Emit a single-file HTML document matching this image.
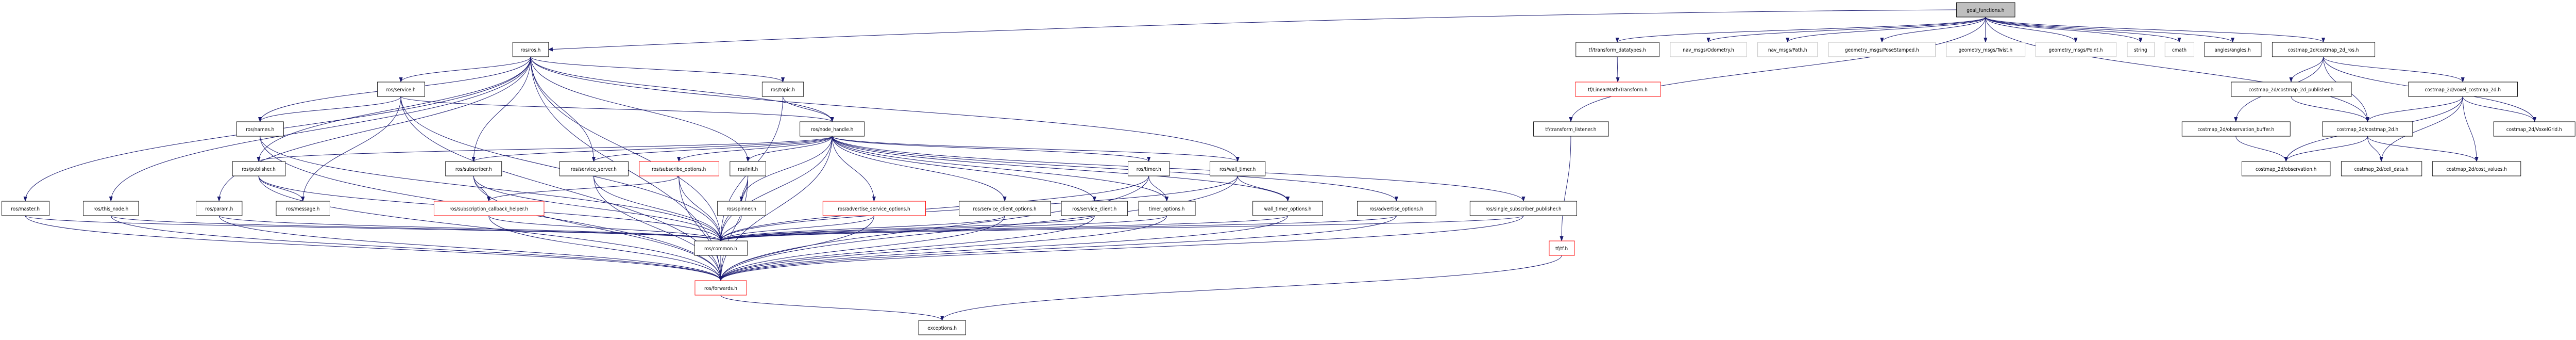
<!DOCTYPE html>
<html><head><meta charset="utf-8"><style>
html,body{margin:0;padding:0;background:#fff;width:100%;height:100%;overflow:hidden;}
svg{display:block;position:absolute;left:0;top:0;width:100vw;height:100vh;}
text{font-family:"DejaVu Sans","Liberation Sans",sans-serif;font-size:10px;fill:#000;}
</style></head><body>
<svg id="g" xmlns="http://www.w3.org/2000/svg" viewBox="0 0 5597 659" preserveAspectRatio="none">
<defs><marker id="a" markerWidth="10" markerHeight="8" refX="9" refY="4" orient="auto" markerUnits="userSpaceOnUse"><path d="M0,0 L10,4 L0,8 z" fill="#191970"/></marker></defs>
<g id="edges" fill="none" stroke="#191970" stroke-width="1"></g>
<g id="nodes">
<rect x="4251" y="5" width="127" height="28" fill="#bfbfbf" stroke="#000"/><text x="4314" y="23" text-anchor="middle">goal_functions.h</text>
<rect x="1114" y="82" width="78" height="28" fill="#fff" stroke="#000"/><text x="1153" y="100" text-anchor="middle">ros/ros.h</text>
<rect x="3424" y="82" width="181" height="28" fill="#fff" stroke="#000"/><text x="3514" y="100" text-anchor="middle">tf/transform_datatypes.h</text>
<rect x="3629" y="82" width="166" height="28" fill="#fff" stroke="#bfbfbf"/><text x="3712" y="100" text-anchor="middle">nav_msgs/Odometry.h</text>
<rect x="3819" y="82" width="130" height="28" fill="#fff" stroke="#bfbfbf"/><text x="3884" y="100" text-anchor="middle">nav_msgs/Path.h</text>
<rect x="3973" y="82" width="232" height="28" fill="#fff" stroke="#bfbfbf"/><text x="4089" y="100" text-anchor="middle">geometry_msgs/PoseStamped.h</text>
<rect x="4229" y="82" width="171" height="28" fill="#fff" stroke="#bfbfbf"/><text x="4314" y="100" text-anchor="middle">geometry_msgs/Twist.h</text>
<rect x="4423" y="82" width="175" height="28" fill="#fff" stroke="#bfbfbf"/><text x="4510" y="100" text-anchor="middle">geometry_msgs/Point.h</text>
<rect x="4622" y="82" width="59" height="28" fill="#fff" stroke="#bfbfbf"/><text x="4651" y="100" text-anchor="middle">string</text>
<rect x="4704" y="82" width="63" height="28" fill="#fff" stroke="#bfbfbf"/><text x="4735" y="100" text-anchor="middle">cmath</text>
<rect x="4790" y="82" width="123" height="28" fill="#fff" stroke="#000"/><text x="4851" y="100" text-anchor="middle">angles/angles.h</text>
<rect x="4937" y="82" width="223" height="28" fill="#fff" stroke="#000"/><text x="5048" y="100" text-anchor="middle">costmap_2d/costmap_2d_ros.h</text>
<rect x="820" y="159" width="103" height="28" fill="#fff" stroke="#000"/><text x="871" y="177" text-anchor="middle">ros/service.h</text>
<rect x="1656" y="159" width="90" height="28" fill="#fff" stroke="#000"/><text x="1701" y="177" text-anchor="middle">ros/topic.h</text>
<rect x="3423" y="159" width="185" height="28" fill="#fff" stroke="#f00"/><text x="3515" y="177" text-anchor="middle">tf/LinearMath/Transform.h</text>
<rect x="4848" y="159" width="261" height="28" fill="#fff" stroke="#000"/><text x="4978" y="177" text-anchor="middle">costmap_2d/costmap_2d_publisher.h</text>
<rect x="5233" y="159" width="237" height="28" fill="#fff" stroke="#000"/><text x="5351" y="177" text-anchor="middle">costmap_2d/voxel_costmap_2d.h</text>
<rect x="514" y="236" width="102" height="28" fill="#fff" stroke="#000"/><text x="565" y="254" text-anchor="middle">ros/names.h</text>
<rect x="1738" y="236" width="140" height="28" fill="#fff" stroke="#000"/><text x="1808" y="254" text-anchor="middle">ros/node_handle.h</text>
<rect x="3332" y="236" width="163" height="28" fill="#fff" stroke="#000"/><text x="3413" y="254" text-anchor="middle">tf/transform_listener.h</text>
<rect x="4741" y="236" width="235" height="28" fill="#fff" stroke="#000"/><text x="4858" y="254" text-anchor="middle">costmap_2d/observation_buffer.h</text>
<rect x="5046" y="236" width="196" height="28" fill="#fff" stroke="#000"/><text x="5144" y="254" text-anchor="middle">costmap_2d/costmap_2d.h</text>
<rect x="5418" y="236" width="177" height="28" fill="#fff" stroke="#000"/><text x="5506" y="254" text-anchor="middle">costmap_2d/VoxelGrid.h</text>
<rect x="505" y="313" width="115" height="28" fill="#fff" stroke="#000"/><text x="562" y="331" text-anchor="middle">ros/publisher.h</text>
<rect x="968" y="313" width="122" height="28" fill="#fff" stroke="#000"/><text x="1029" y="331" text-anchor="middle">ros/subscriber.h</text>
<rect x="1216" y="313" width="149" height="28" fill="#fff" stroke="#000"/><text x="1290" y="331" text-anchor="middle">ros/service_server.h</text>
<rect x="1389" y="313" width="173" height="28" fill="#fff" stroke="#f00"/><text x="1475" y="331" text-anchor="middle">ros/subscribe_options.h</text>
<rect x="1586" y="313" width="78" height="28" fill="#fff" stroke="#000"/><text x="1625" y="331" text-anchor="middle">ros/init.h</text>
<rect x="2451" y="313" width="90" height="28" fill="#fff" stroke="#000"/><text x="2496" y="331" text-anchor="middle">ros/timer.h</text>
<rect x="2629" y="313" width="120" height="28" fill="#fff" stroke="#000"/><text x="2689" y="331" text-anchor="middle">ros/wall_timer.h</text>
<rect x="4871" y="313" width="192" height="28" fill="#fff" stroke="#000"/><text x="4967" y="331" text-anchor="middle">costmap_2d/observation.h</text>
<rect x="5087" y="313" width="175" height="28" fill="#fff" stroke="#000"/><text x="5174" y="331" text-anchor="middle">costmap_2d/cell_data.h</text>
<rect x="5285" y="313" width="192" height="28" fill="#fff" stroke="#000"/><text x="5381" y="331" text-anchor="middle">costmap_2d/cost_values.h</text>
<rect x="4" y="390" width="103" height="28" fill="#fff" stroke="#000"/><text x="55" y="408" text-anchor="middle">ros/master.h</text>
<rect x="181" y="390" width="120" height="28" fill="#fff" stroke="#000"/><text x="241" y="408" text-anchor="middle">ros/this_node.h</text>
<rect x="426" y="390" width="100" height="28" fill="#fff" stroke="#000"/><text x="476" y="408" text-anchor="middle">ros/param.h</text>
<rect x="600" y="390" width="117" height="28" fill="#fff" stroke="#000"/><text x="658" y="408" text-anchor="middle">ros/message.h</text>
<rect x="943" y="390" width="239" height="28" fill="#fff" stroke="#f00"/><text x="1062" y="408" text-anchor="middle">ros/subscription_callback_helper.h</text>
<rect x="1559" y="390" width="105" height="28" fill="#fff" stroke="#000"/><text x="1611" y="408" text-anchor="middle">ros/spinner.h</text>
<rect x="1788" y="390" width="223" height="28" fill="#fff" stroke="#f00"/><text x="1899" y="408" text-anchor="middle">ros/advertise_service_options.h</text>
<rect x="2084" y="390" width="199" height="28" fill="#fff" stroke="#000"/><text x="2183" y="408" text-anchor="middle">ros/service_client_options.h</text>
<rect x="2306" y="390" width="144" height="28" fill="#fff" stroke="#000"/><text x="2378" y="408" text-anchor="middle">ros/service_client.h</text>
<rect x="2474" y="390" width="123" height="28" fill="#fff" stroke="#000"/><text x="2535" y="408" text-anchor="middle">timer_options.h</text>
<rect x="2722" y="390" width="152" height="28" fill="#fff" stroke="#000"/><text x="2798" y="408" text-anchor="middle">wall_timer_options.h</text>
<rect x="2949" y="390" width="171" height="28" fill="#fff" stroke="#000"/><text x="3034" y="408" text-anchor="middle">ros/advertise_options.h</text>
<rect x="3194" y="390" width="232" height="28" fill="#fff" stroke="#000"/><text x="3310" y="408" text-anchor="middle">ros/single_subscriber_publisher.h</text>
<rect x="1509" y="467" width="115" height="28" fill="#fff" stroke="#000"/><text x="1566" y="485" text-anchor="middle">ros/common.h</text>
<rect x="3366" y="467" width="55" height="28" fill="#fff" stroke="#f00"/><text x="3393" y="485" text-anchor="middle">tf/tf.h</text>
<rect x="1510" y="544" width="112" height="28" fill="#fff" stroke="#f00"/><text x="1566" y="562" text-anchor="middle">ros/forwards.h</text>
<rect x="1996" y="621" width="102" height="28" fill="#fff" stroke="#000"/><text x="2047" y="639" text-anchor="middle">exceptions.h</text>
</g>
</svg>
<script>
var N={goal:[4314,5],ros:[1153,82],tfdt:[3514,82],odom:[3712,82],path:[3884,82],pose:[4089,82],twist:[4314,82],point:[4510,82],string:[4651,82],cmath:[4735,82],angles:[4851,82],cros:[5048,82],
service:[871,159],topic:[1701,159],ltf:[3515,159],cpub:[4978,159],voxel:[5351,159],names:[565,236],nh:[1808,236],tfl:[3413,236],obuf:[4858,236],c2d:[5144,236],vgrid:[5507,236],
publisher:[562,313],subscriber:[1029,313],sserver:[1290,313],subopt:[1475,313],init:[1625,313],timer:[2496,313],wtimer:[2689,313],obs:[4967,313],cell:[5174,313],costv:[5381,313],
master:[55,390],thisnode:[241,390],param:[476,390],message:[658,390],sch:[1062,390],spinner:[1611,390],aso:[1899,390],sco:[2183,390],sclient:[2378,390],topt:[2535,390],wto:[2798,390],ao:[3034,390],ssp:[3310,390],
common:[1566,467],tf:[3393,467],forwards:[1566,544],exceptions:[2047,621]};
var E="goal tfdt,goal odom,goal path,goal pose,goal twist,goal point,goal string,goal cmath,goal angles,goal cros,goal c2d,goal tfl,"+
"ros service,ros names,ros publisher,ros subscriber,ros sserver,ros master,ros thisnode,ros param,ros topic,ros nh,ros init,ros common,ros forwards,ros wtimer,"+
"service names,service message,service nh,service common,service forwards,names common,names forwards,topic nh,topic common,"+
"nh publisher,nh subscriber,nh sserver,nh subopt,nh init,nh spinner,nh aso,nh sco,nh sclient,nh topt,nh timer,nh wtimer,nh wto,nh ao,nh ssp,nh common,nh forwards,"+
"publisher message,publisher common,publisher forwards,subscriber sch,subscriber common,subscriber forwards,sserver common,sserver forwards,subopt sch,subopt common,subopt forwards,"+
"init spinner,init common,init forwards,timer topt,timer common,timer forwards,wtimer wto,wtimer common,wtimer forwards,master common,master forwards,thisnode common,thisnode forwards,param common,param forwards,"+
"sch common,sch forwards,spinner common,aso common,aso forwards,sco common,sco forwards,sclient common,sclient forwards,topt common,topt forwards,wto common,wto forwards,ao common,ao forwards,ssp common,ssp forwards,"+
"common forwards,forwards exceptions,tf exceptions,tfl tf,tfdt ltf,cros obuf,cros cpub,cros c2d,cros voxel,cros vgrid,cpub c2d,voxel c2d,voxel obs,voxel cell,voxel costv,voxel vgrid,obuf obs,c2d obs,c2d cell,c2d costv";
var g=document.getElementById("edges");
var s='<path d="M4251,19 C3000,25 1800,70 1192,96" marker-end="url(#a)"/>';
E.split(",").forEach(function(e){var p=e.split(" "),a=N[p[0]],b=N[p[1]];if(!a||!b)return;
var sx=a[0],sy=a[1]+28,tx=b[0],ty=b[1];
var d=Math.max(20,(ty-sy)/2);
s+='<path d="M'+sx+','+sy+' C'+sx+','+(sy+d)+' '+tx+','+(ty-d)+' '+tx+','+ty+'" marker-end="url(#a)"/>';});
g.innerHTML=s;
</script>
</body></html>
